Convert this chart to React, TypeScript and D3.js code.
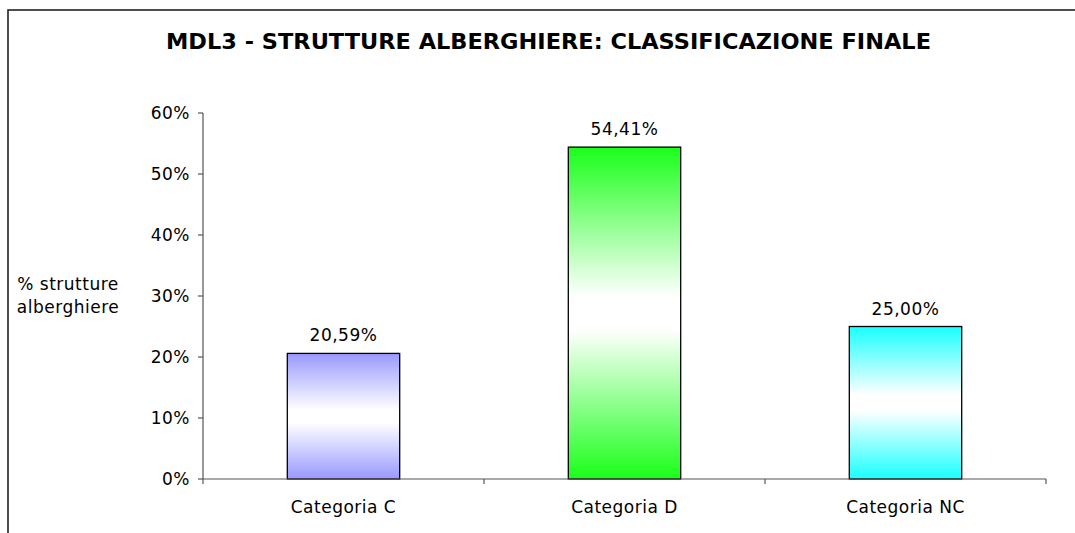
import React from "react";
import * as d3 from "d3";

const title = "MDL3 - STRUTTURE ALBERGHIERE: CLASSIFICAZIONE FINALE";
const categories = ["Categoria C", "Categoria D", "Categoria NC"];
const values = [0.2059, 0.5441, 0.25];
const valueLabels = ["20,59%", "54,41%", "25,00%"];
const barColors = ["#9999ff", "#1aff1a", "#1affff"];
const yTicks = [0, 0.1, 0.2, 0.3, 0.4, 0.5, 0.6];
const yLabelLines = ["% strutture", "alberghiere"];

const W = 1075;
const H = 533;
const FONT = "'DejaVu Sans', Verdana, sans-serif";

export default function App() {
  const y = d3.scaleLinear().domain([0, 0.6]).range([479, 113]);
  const x = d3
    .scaleBand<string>()
    .domain(categories)
    .range([203, 1046])
    .paddingInner(0.6)
    .paddingOuter(0.3);
  const step = x.step();
  const x0 = 203;
  const boundaries = d3.range(categories.length + 1).map((i) => x0 + i * step);
  const axisColor = "#555";

  return (
    <svg
      width={W}
      height={H}
      style={{ position: "absolute", left: 0, top: 0, background: "#fff" }}
      fontFamily={FONT}
    >
      <defs>
        {barColors.map((c, i) => (
          <linearGradient key={i} id={`g${i}`} x1="0" y1="0" x2="0" y2="1">
            <stop offset="0" stopColor={c} />
            <stop offset="0.45" stopColor="#ffffff" />
            <stop offset="0.55" stopColor="#ffffff" />
            <stop offset="1" stopColor={c} />
          </linearGradient>
        ))}
      </defs>
      <rect x={8} y={10} width={1200} height={700} fill="#fff" stroke="#222" strokeWidth={1.6} />
      <text
        x={548.5}
        y={49}
        textAnchor="middle"
        fontWeight="bold"
        fontSize={21}
        textLength={765}
        lengthAdjust="spacingAndGlyphs"
        fill="#000"
      >
        {title}
      </text>

      {/* y axis */}
      <line x1={203} x2={203} y1={y(0.6)} y2={y(0)} stroke={axisColor} strokeWidth={1.2} />
      {yTicks.map((t) => (
        <g key={t}>
          <line x1={198} x2={203} y1={y(t)} y2={y(t)} stroke={axisColor} strokeWidth={1.2} />
          <text
            x={190}
            y={y(t)}
            dy="0.36em"
            textAnchor="end"
            fontSize={17}
            letterSpacing={0.5}
            fill="#000"
          >
            {d3.format(".0%")(t)}
          </text>
        </g>
      ))}
      {yLabelLines.map((l, i) => (
        <text key={l} x={68} y={290 + i * 23} textAnchor="middle" fontSize={17} letterSpacing={0.5} fill="#000">
          {l}
        </text>
      ))}

      {/* bars */}
      {categories.map((c, i) => {
        const bx = x(c)!;
        const top = y(values[i]);
        return (
          <g key={c}>
            <rect
              x={bx}
              y={top}
              width={x.bandwidth()}
              height={y(0) - top}
              fill={`url(#g${i})`}
              stroke="#000"
              strokeWidth={1.3}
            />
            <text
              x={bx + x.bandwidth() / 2}
              y={top - 12}
              textAnchor="middle"
              fontSize={17}
              letterSpacing={0.5}
              fill="#000"
            >
              {valueLabels[i]}
            </text>
            <text
              x={bx + x.bandwidth() / 2}
              y={513}
              textAnchor="middle"
              fontSize={17}
              letterSpacing={0.5}
              fill="#000"
            >
              {c}
            </text>
          </g>
        );
      })}

      {/* x axis */}
      <line x1={203} x2={1046} y1={y(0)} y2={y(0)} stroke={axisColor} strokeWidth={1.2} />
      {boundaries.map((b, i) => (
        <line key={i} x1={b} x2={b} y1={y(0)} y2={y(0) + 5} stroke={axisColor} strokeWidth={1.2} />
      ))}
    </svg>
  );
}
